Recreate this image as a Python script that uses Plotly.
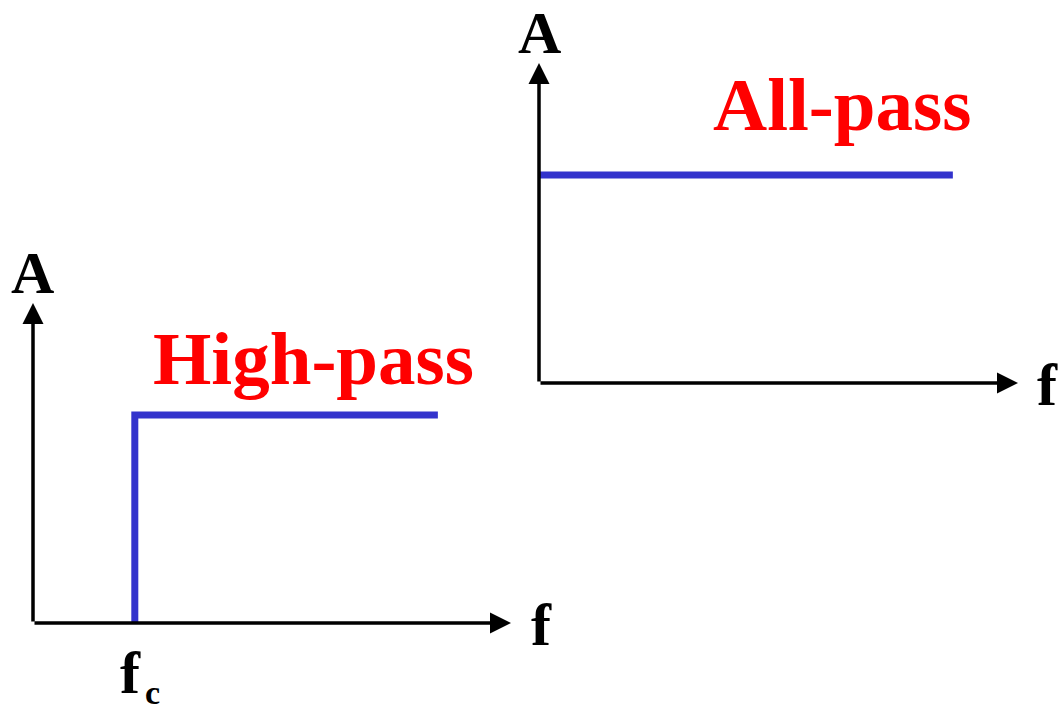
import plotly.graph_objects as go

W, H = 1063, 711

# ---- data (abstract units: 0..10 on each axis) ----
axis_len = [0, 10]            # axis extent (arrow tip at 10)
hp_fc = 2.13                  # cutoff frequency of high-pass
hp_level = 6.5                # passband amplitude (high-pass)
hp_fend = 8.47                # end of drawn passband
ap_level = 6.5                # amplitude (all-pass)
ap_fend = 8.64                # end of drawn line (all-pass)

hp_x = [hp_fc, hp_fc, hp_fend]
hp_y = [0, hp_level, hp_level]
ap_x = [0, ap_fend]
ap_y = [ap_level, ap_level]

BLUE = "#3333CC"
RED = "#FF0000"
FONT = "Liberation Serif"

def px_x(p):
    return p / W

def px_y(p):
    return 1 - p / H

fig = go.Figure()
fig.add_trace(go.Scatter(x=hp_x, y=hp_y, mode="lines", xaxis="x", yaxis="y",
                         line=dict(color=BLUE, width=7), showlegend=False,
                         hoverinfo="skip"))
fig.add_trace(go.Scatter(x=ap_x, y=ap_y, mode="lines", xaxis="x2", yaxis="y2",
                         line=dict(color=BLUE, width=7), showlegend=False,
                         hoverinfo="skip"))

ax_common = dict(visible=False, fixedrange=True)
fig.update_layout(
    width=W, height=H,
    margin=dict(l=0, r=0, t=0, b=0),
    plot_bgcolor="white", paper_bgcolor="white",
    xaxis=dict(domain=[px_x(33), px_x(511)], range=axis_len, **ax_common),
    yaxis=dict(domain=[px_y(623), px_y(303)], range=axis_len, **ax_common),
    xaxis2=dict(domain=[px_x(539), px_x(1018)], range=axis_len, anchor="y2", **ax_common),
    yaxis2=dict(domain=[px_y(383), px_y(63)], range=axis_len, anchor="x2", **ax_common),
)

arrow = dict(showarrow=True, arrowhead=2, arrowsize=1.2, arrowwidth=3.5,
             arrowcolor="black", text="")
for xr, yr in (("x", "y"), ("x2", "y2")):
    # x axis
    fig.add_annotation(x=axis_len[1], y=0, ax=axis_len[0], ay=0,
                       xref=xr, yref=yr, axref=xr, ayref=yr, **arrow)
    # y axis
    fig.add_annotation(x=0, y=axis_len[1], ax=0, ay=axis_len[0],
                       xref=xr, yref=yr, axref=xr, ayref=yr, **arrow)

def label(text, xp, yp, size, color="black", xanchor="center"):
    fig.add_annotation(x=px_x(xp), y=px_y(yp), xref="paper", yref="paper",
                       text=text, showarrow=False, xanchor=xanchor, yanchor="middle",
                       font=dict(family=FONT, size=size, color=color))

label("<b>A</b>", 32, 273, 60)
label("<b>A</b>", 539, 33, 60)
label("<b>f</b>", 541, 625, 60)
label("<b>f</b>", 1047, 385, 60)
label("<b>High-pass</b>", 313, 358, 75, RED)
label("<b>All-pass</b>", 842, 104, 75, RED)
label("<b>f</b>", 130, 673, 60)
label("<b>c</b>", 152, 692, 34)

fig.write_html("out.html", config={"displayModeBar": False, "staticPlot": True},
               post_script="document.body.style.margin='0';document.body.style.overflow='hidden';")
